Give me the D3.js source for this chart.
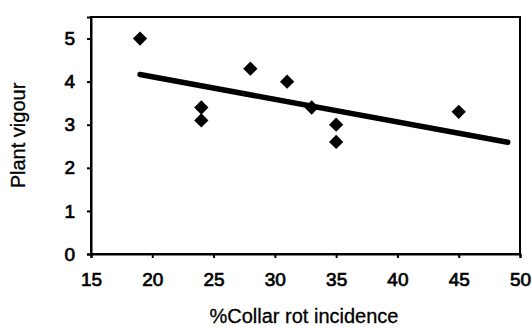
<!DOCTYPE html>
<html>
<head>
<meta charset="utf-8">
<script src="https://cdn.jsdelivr.net/npm/d3@7"></script>
<style>
  html, body { margin: 0; padding: 0; background: #fff; }
  svg { display: block; }
  text { font-family: "Liberation Sans", Arial, sans-serif; fill: #000; }
</style>
</head>
<body>
<svg id="chart" width="532" height="328"></svg>
<script>
// Collar rot incidence (%) against plant vigour score
const incidence = [19, 24, 24, 28, 31, 33, 35, 35, 45];
const vigour    = [5.0, 3.4, 3.1, 4.3, 4.0, 3.4, 3.0, 2.6, 3.3];
const xTicks = [15, 20, 25, 30, 35, 40, 45, 50];
const yTicks = [0, 1, 2, 3, 4, 5];
const trendRange = [19, 49];

const svg = d3.select("#chart");
const m = { left: 91, right: 12, top: 17, bottom: 74 };
const W = 532, H = 328;

const x = d3.scaleLinear().domain([15, 50]).range([m.left, W - m.right]);
const y = d3.scaleLinear().domain([0, 5.5]).range([H - m.bottom, m.top]);

// plot frame
svg.append("rect")
  .attr("x", x(15)).attr("y", y(5.5))
  .attr("width", x(50) - x(15)).attr("height", y(0) - y(5.5))
  .attr("fill", "none").attr("stroke", "#000").attr("stroke-width", 2);

// axes
const xAxis = svg.append("g")
  .attr("transform", `translate(0,${y(0)})`)
  .call(d3.axisBottom(x).tickValues(xTicks).tickSize(4).tickPadding(15).tickFormat(d3.format("d")));
const yAxis = svg.append("g")
  .attr("transform", `translate(${x(15)},0)`)
  .call(d3.axisLeft(y).tickValues(yTicks).tickSize(4).tickPadding(12).tickFormat(d3.format("d")));

[xAxis, yAxis].forEach(g => {
  g.select(".domain").attr("stroke", "#000").attr("stroke-width", 2);
  g.selectAll(".tick line").attr("stroke", "#000").attr("stroke-width", 2);
  g.selectAll(".tick text")
    .style("font-size", "19px")
    .attr("fill", "#000").attr("stroke", "#000").attr("stroke-width", 0.7);
});

// least-squares trend line
const mx = d3.mean(incidence), my = d3.mean(vigour);
const sxy = d3.sum(incidence, (v, i) => (v - mx) * (vigour[i] - my));
const sxx = d3.sum(incidence, v => (v - mx) * (v - mx));
const slope = sxy / sxx, intercept = my - slope * mx;

svg.append("line")
  .attr("x1", x(trendRange[0])).attr("y1", y(intercept + slope * trendRange[0]))
  .attr("x2", x(trendRange[1])).attr("y2", y(intercept + slope * trendRange[1]))
  .attr("stroke", "#000").attr("stroke-width", 5.5).attr("stroke-linecap", "round");

// data markers
svg.append("g").selectAll("path")
  .data(incidence.map((v, i) => [v, vigour[i]]))
  .join("path")
  .attr("d", d3.symbol(d3.symbolDiamond2, 130))
  .attr("transform", d => `translate(${x(d[0])},${y(d[1])})`)
  .attr("fill", "#000");

// axis titles
svg.append("text")
  .attr("transform", `translate(25,${(y(0) + y(5.5)) / 2}) rotate(-90)`)
  .attr("text-anchor", "middle")
  .style("font-size", "20px")
  .attr("stroke", "#000").attr("stroke-width", 0.3)
  .text("Plant vigour");

svg.append("text")
  .attr("x", 304)
  .attr("y", 323)
  .attr("text-anchor", "middle")
  .style("font-size", "20px")
  .attr("stroke", "#000").attr("stroke-width", 0.3)
  .text("%Collar rot incidence");
</script>
</body>
</html>
